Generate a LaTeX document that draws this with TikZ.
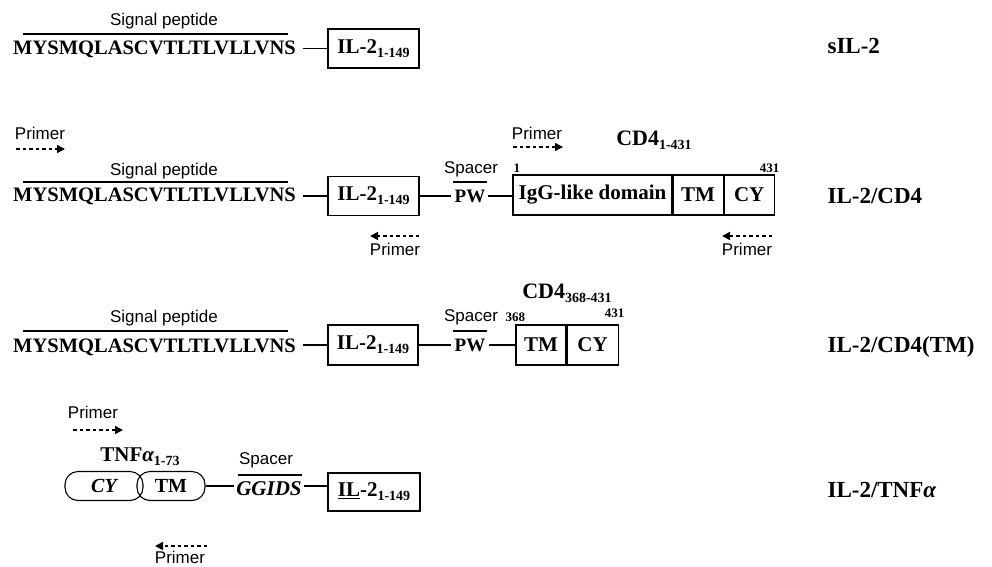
\documentclass[tikz,border=0pt]{standalone}
\usepackage{fontspec}
\setmainfont{Liberation Serif}
\setsansfont{Liberation Sans}
\usetikzlibrary{arrows.meta}
\newcommand\lowsub[1]{\raisebox{-0.4ex}{\fontsize{14}{14}\selectfont #1}}
\begin{document}
\begin{tikzpicture}[x=1pt,y=-1pt,line width=1.1pt,
  seq/.style={font=\fontsize{20.5}{21}\selectfont\bfseries,inner sep=0pt,anchor=base},
  lab/.style={font=\fontsize{17}{18}\selectfont\sffamily,inner sep=0pt},
  dom/.style={draw,inner sep=0pt,minimum height=39pt,font=\fontsize{21}{22}\selectfont\bfseries},
  oval/.style={draw,inner sep=0pt,rounded corners=13pt,minimum height=29pt,font=\fontsize{20}{22}\selectfont\bfseries},
  txt/.style={inner sep=0pt,font=\fontsize{21}{22}\selectfont\bfseries},
  num/.style={inner sep=0pt,font=\fontsize{13}{13}\selectfont\bfseries},
  cname/.style={inner sep=0pt,anchor=base west,font=\fontsize{23}{24}\selectfont\bfseries},
  primer/.style={dash pattern=on 3.5pt off 3pt,line width=1.5pt,-{Triangle[length=8pt,width=8pt]}}]
\useasboundingbox (0,0) rectangle (992,566);

% ---------- row 1: sIL-2
\node[lab] (sp1) at (164,21) {Signal peptide};
\draw (23,34) -- (288,34);
\node[seq] (seq1) at (154.5,54) {MYSMQLASCVTLTLVLLVNS};
\node[dom,minimum width=91pt] (il1) at (373.5,48.5) {IL-2\lowsub{1-149}};
\draw ([xshift=7pt]seq1.east |- il1.west) -- (il1.west);
\node[cname] (n1) at (827,53) {sIL-2};

% ---------- row 2: IL-2/CD4
\node[lab] (pr2a) at (40,133) {Primer};
\coordinate (a2s) at (16,149); \coordinate (a2e) at (65,149);
\draw[primer] (a2s) -- (a2e);
\node[lab] (sp2) at (164,171) {Signal peptide};
\draw (23,182) -- (288,182);
\node[seq] (seq2) at (154.5,201) {MYSMQLASCVTLTLVLLVNS};
\node[dom,minimum width=91pt] (il2) at (373.5,196) {IL-2\lowsub{1-149}};
\draw ([xshift=7pt]seq2.east |- il2.west) -- (il2.west);
\coordinate (b2s) at (419,236); \coordinate (b2e) at (370,236);
\draw[primer] (b2s) -- (b2e);
\node[lab] (pr2b) at (395,249) {Primer};
\node[lab] (spc2) at (471,169) {Spacer};
\draw (453,182) -- (487,182);
\node[txt,font=\fontsize{19}{20}\selectfont\bfseries] (pw2) at (470,196) {PW};
\draw (il2.east) -- ([xshift=-3pt]pw2.west);
\node[dom,minimum width=159pt,minimum height=40pt] (igg) at (592.5,195) {IgG-like domain};
\node[dom,minimum width=50pt,minimum height=40pt,anchor=west] (tm2) at (igg.east) {TM};
\node[dom,minimum width=50pt,minimum height=40pt,anchor=west] (cy2) at (tm2.east) {CY};
\draw ([xshift=2pt]pw2.east) -- (pw2.east -| igg.west);
\node[num,anchor=south west] (one) at (513,173) {1};
\node[num,anchor=south east] (e431a) at (780,173) {431};
\node[lab] (pr2c) at (537,133) {Primer};
\coordinate (c2s) at (513,147); \coordinate (c2e) at (563,147);
\draw[primer] (c2s) -- (c2e);
\node[txt,font=\fontsize{22}{22}\selectfont\bfseries] (cd4a) at (654,140) {CD4\lowsub{1-431}};
\coordinate (d2s) at (772,236); \coordinate (d2e) at (722,236);
\draw[primer] (d2s) -- (d2e);
\node[lab] (pr2d) at (747,249) {Primer};
\node[cname] (n2) at (827,203) {IL-2/CD4};

% ---------- row 3: IL-2/CD4(TM)
\node[lab] (sp3) at (164,318) {Signal peptide};
\draw (23,331) -- (288,331);
\node[seq] (seq3) at (154.5,352) {MYSMQLASCVTLTLVLLVNS};
\node[dom,minimum width=90pt,minimum height=40pt] (il3) at (373,345) {IL-2\lowsub{1-149}};
\draw ([xshift=7pt]seq3.east |- il3.west) -- (il3.west);
\node[lab] (spc3) at (471,317) {Spacer};
\draw (453,331) -- (487,331);
\node[txt,font=\fontsize{19}{20}\selectfont\bfseries] (pw3) at (470,345) {PW};
\draw (il3.east) -- ([xshift=-3pt]pw3.west);
\node[dom,minimum width=50pt,minimum height=40pt] (tm3) at (541,345) {TM};
\node[dom,minimum width=51pt,minimum height=40pt,anchor=west] (cy3) at (tm3.east) {CY};
\draw ([xshift=3pt]pw3.east) -- (tm3.west);
\node[num,anchor=south west] (s368) at (505,322) {368};
\node[num,anchor=south east] (e431b) at (625,318) {431};
\node[txt,font=\fontsize{22}{22}\selectfont\bfseries] (cd4b) at (567,293) {CD4\lowsub{368-431}};
\node[cname] (n3) at (827,352) {IL-2/CD4(TM)};

% ---------- row 4: IL-2/TNFalpha
\node[lab] (pr4a) at (93,412) {Primer};
\coordinate (a4s) at (73,430); \coordinate (a4e) at (123,430);
\draw[primer] (a4s) -- (a4e);
\node[txt] (tnf) at (140,457) {TNF{\itshape α}\lowsub{1-73}};
\node[oval,minimum width=78pt] (cy4) at (104,486) {\itshape CY};
\node[oval,minimum width=68pt] (tm4) at (171,486) {TM};
\node[lab] (spc4) at (266,460) {Spacer};
\draw (238,475) -- (302,475);
\node[txt,font=\fontsize{21}{22}\selectfont\bfseries\itshape] (gg) at (269,489) {GGIDS};
\draw (tm4.east) -- ([xshift=-2pt]gg.west |- tm4.east);
\node[dom,minimum width=92pt,minimum height=38pt] (il4) at (374,492) {\underline{IL}-2\lowsub{1-149}};
\draw ([xshift=2pt]gg.east |- tm4.east) -- (il4.west |- tm4.east);
\coordinate (b4s) at (207,546); \coordinate (b4e) at (155,546);
\draw[primer] (b4s) -- (b4e);
\node[lab] (pr4b) at (180,557) {Primer};
\node[cname] (n4) at (827,497) {IL-2/TNF{\itshape α}};
\end{tikzpicture}
\end{document}
